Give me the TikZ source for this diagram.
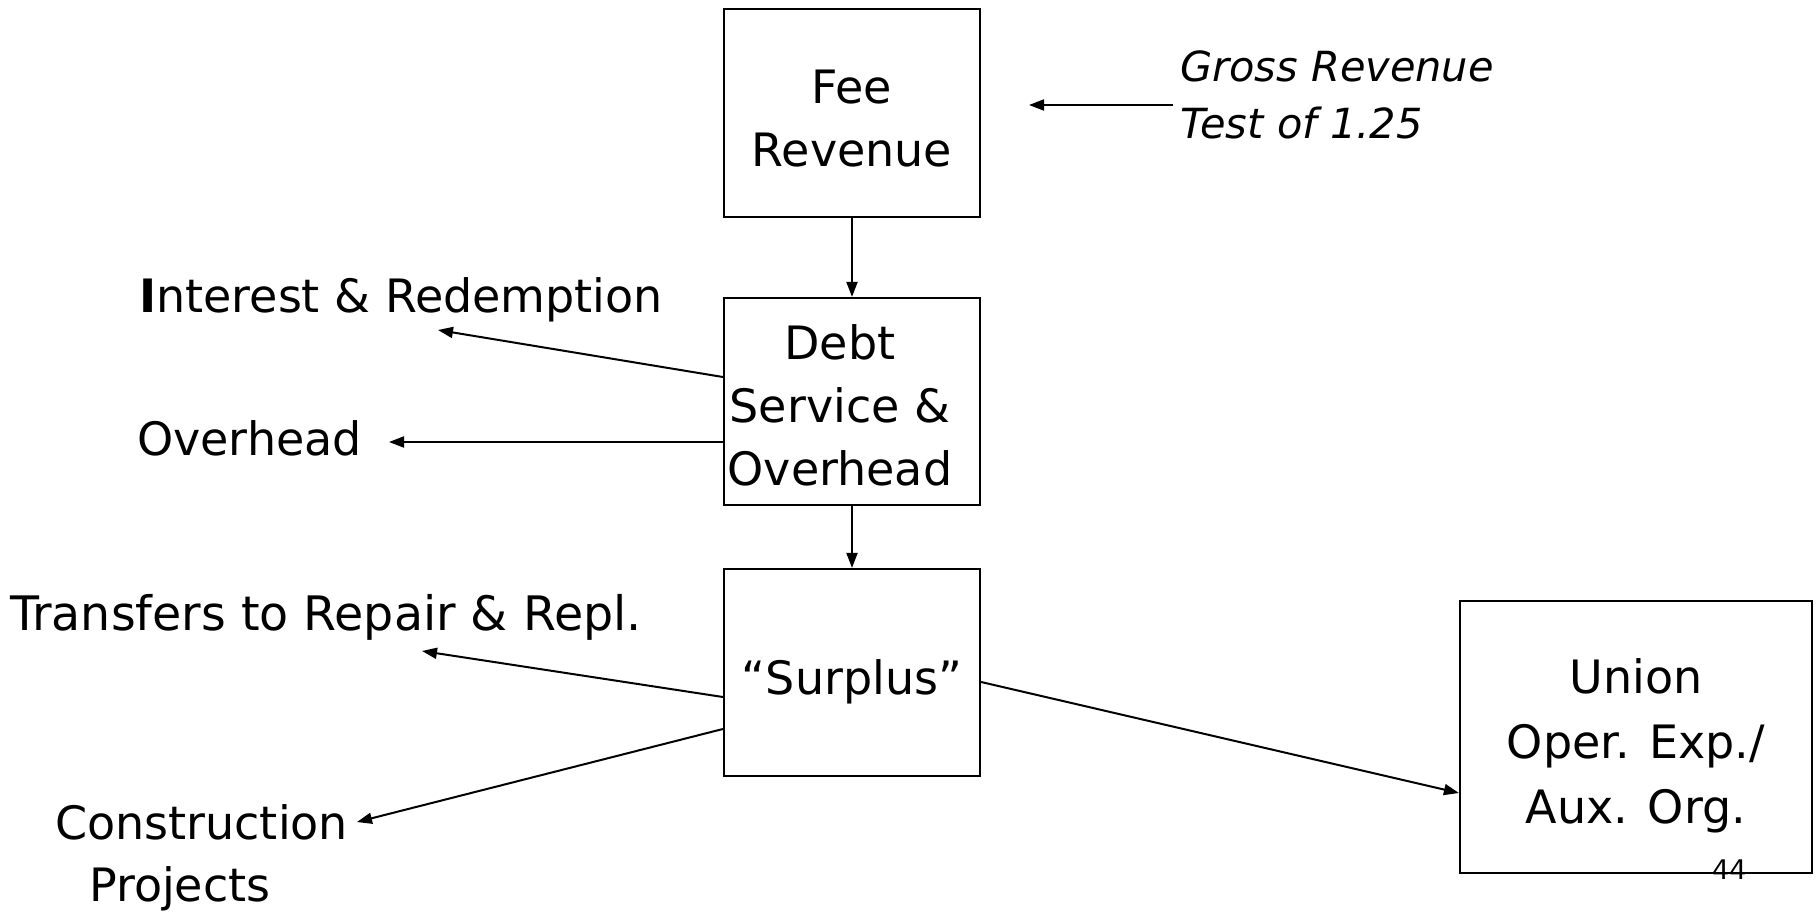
\documentclass[tikz,border=0pt]{standalone}
\usepackage{fontspec}
\setmainfont{DejaVu Sans}[ItalicFont={DejaVu Sans Oblique},BoldFont={DejaVu Sans Bold}]
\usetikzlibrary{arrows.meta}
\begin{document}
\begin{tikzpicture}[x=1pt,y=-1pt,
  box/.style={draw, line width=2.2pt, rectangle, inner sep=0pt},
  boxtext/.style={inner sep=0pt, align=center, font=\fontsize{46}{63}\selectfont},
  lbl/.style={inner sep=0pt, font=\fontsize{46}{62}\selectfont},
  arr/.style={line width=2pt, -{Triangle[length=15pt,width=11pt]}},
]
\useasboundingbox (0,0) rectangle (1817,912);
\fill[white] (0,0) rectangle (1817,912);
% boxes
\node[box, minimum width=256pt, minimum height=208pt,
  label={[boxtext, yshift=-6pt]center:Fee\\Revenue}] (fee) at (852,113) {};
\node[box, minimum width=256pt, minimum height=207pt,
  label={[boxtext, yshift=-4pt, xshift=-12pt]center:Debt\\Service \&\\Overhead}] (debt) at (852,401.5) {};
\node[box, minimum width=256pt, minimum height=207pt,
  label={[boxtext, yshift=-9pt]center:“Surplus”}] (surplus) at (852,672.5) {};
\node[box, minimum width=352pt, minimum height=272pt,
  label={[boxtext, font=\fontsize{46}{65}\selectfont, yshift=-9pt]center:Union\\Oper. Exp./\\Aux. Org.}] (union) at (1636,737) {};
% labels
\node[lbl, anchor=base west] (interest) at (139,312) {{\bfseries I}nterest \& Redemption};
\node[lbl, anchor=base west] (overhead) at (137,455) {Overhead};
\node[lbl, anchor=base west, font=\fontsize{47.5}{62}\selectfont] (transfers) at (10,630) {Transfers to Repair \& Repl.};
\node[lbl, anchor=north west, align=left] (construction) at (55,804) {Construction\\\hspace*{34pt}Projects};
\node[inner sep=0pt, anchor=north west, align=left, font=\fontsize{41.5}{57}\selectfont\itshape] (gross) at (1180,51) {Gross Revenue\\Test of 1.25};
\node[inner sep=0pt, anchor=base west, font=\fontsize{27}{30}\selectfont] (pagenum) at (1712,879) {44};
% free ends
\coordinate (grossStart) at (1173,105);
\coordinate (grossTip) at (1029,105);
\coordinate (intTip) at (438,330);
\coordinate (ovTip) at (389,442);
\coordinate (trTip) at (422,651);
\coordinate (coTip) at (357,822);
% connectors
\draw[arr] (grossStart) -- (grossTip);
\draw[arr] (fee.south) -- (debt.north);
\draw[arr] (debt.south) -- (surplus.north);
\draw[arr] ([yshift=24.5pt]debt.west) -- (intTip);
\draw[arr] ([yshift=-40.5pt]debt.west) -- (ovTip);
\draw[arr] ([yshift=-24.5pt]surplus.west) -- (trTip);
\draw[arr] ([yshift=-56.5pt]surplus.west) -- (coTip);
\draw[arr] ([yshift=-9.5pt]surplus.east) -- ([yshift=-56pt]union.west);
\end{tikzpicture}
\end{document}
